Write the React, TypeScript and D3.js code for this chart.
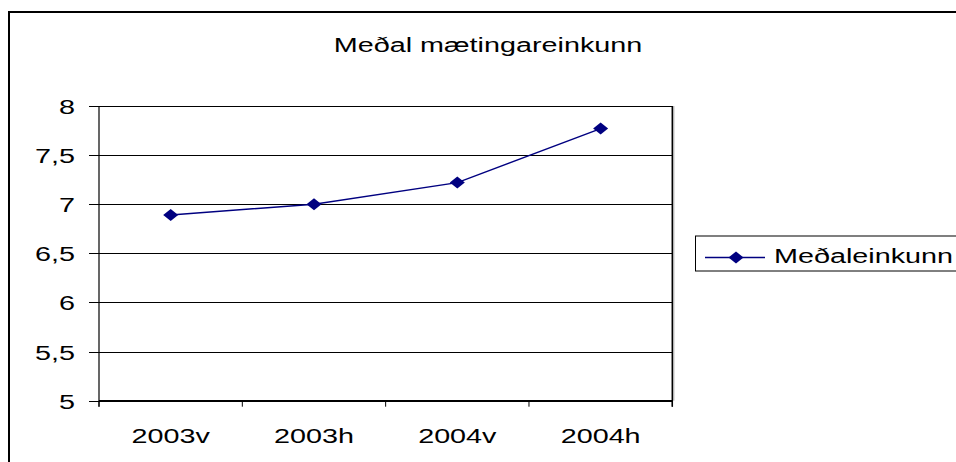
import React from "react";
import * as d3 from "d3";

const categories = ["2003v", "2003h", "2004v", "2004h"];
const values = [6.89, 7.0, 7.22, 7.77];
const yTicks = [5, 5.5, 6, 6.5, 7, 7.5, 8];
const seriesName = "Meðaleinkunn";
const title = "Meðal mætingareinkunn";

const W = 956;
const H = 462;
const SX = 1.37;
const FONT = "'Liberation Sans', Arial, sans-serif";

function SText({ x, y, anchor, size, children }: any) {
  return (
    <text
      transform={`translate(${x},${y}) scale(${SX},1)`}
      textAnchor={anchor}
      fontSize={size}
      fontFamily={FONT}
      fill="#000"
    >
      {children}
    </text>
  );
}

function Diamond({ x, y }: { x: number; y: number }) {
  const w = 7.5, h = 6;
  return <path d={`M${x - w},${y}L${x},${y - h}L${x + w},${y}L${x},${y + h}Z`} fill="#000080" />;
}

export default function App() {
  const left = 99, right = 672.3, top = 106, bottom = 400.7;
  const x = d3.scaleBand<string>().domain(categories).range([left, right]);
  const y = d3.scaleLinear().domain([5, 8]).range([bottom, top]);
  const line = d3
    .line<number>()
    .x((_, i) => (x(categories[i]) as number) + x.bandwidth() / 2)
    .y((d) => y(d));
  const boundaries = categories.map((c) => x(c) as number).concat([right]);
  const fmt = (v: number) => String(v).replace(".", ",");

  return (
    <svg
      width={W}
      height={H}
      style={{ position: "absolute", left: 0, top: 0, background: "#fff" }}
    >
      <rect x={0} y={0} width={W} height={H} fill="#fff" />
      <rect x={9} y={12} width={970} height={480} fill="none" stroke="#000" strokeWidth={2} />
      <SText x={488} y={51.5} anchor="middle" size={21}>{title}</SText>

      {yTicks.map((t) => (
        <g key={t}>
          <line x1={89} x2={right} y1={Math.round(y(t)) + 0.5} y2={Math.round(y(t)) + 0.5} stroke="#000" strokeWidth={1} />
          <SText x={75} y={y(t) + 8} anchor="end" size={21}>{fmt(t)}</SText>
        </g>
      ))}
      <line x1={left} x2={left} y1={top} y2={bottom + 6} stroke="#000" strokeWidth={1.2} />
      <line x1={right} x2={right} y1={top} y2={bottom + 6} stroke="#000" strokeWidth={1.5} />
      <line x1={right + 1.5} x2={right + 1.5} y1={top} y2={bottom} stroke="#999" strokeWidth={1} />
      <line x1={left} x2={right} y1={bottom} y2={bottom} stroke="#000" strokeWidth={1.5} />
      {boundaries.map((b, i) => (
        <line key={i} x1={b} x2={b} y1={bottom} y2={bottom + 6} stroke="#000" strokeWidth={1} />
      ))}
      {categories.map((c) => (
        <SText key={c} x={(x(c) as number) + x.bandwidth() / 2} y={443} anchor="middle" size={21}>{c}</SText>
      ))}

      <path d={line(values) || ""} fill="none" stroke="#000080" strokeWidth={1.5} />
      {values.map((v, i) => (
        <Diamond key={i} x={(x(categories[i]) as number) + x.bandwidth() / 2} y={y(v)} />
      ))}

      <rect x={695.5} y={236} width={300} height={35} fill="#fff" stroke="#000" strokeWidth={1} />
      <line x1={705} x2={765} y1={257.5} y2={257.5} stroke="#000080" strokeWidth={1.5} />
      <Diamond x={736} y={257.5} />
      <SText x={774} y={263} anchor="start" size={21}>{seriesName}</SText>
    </svg>
  );
}
